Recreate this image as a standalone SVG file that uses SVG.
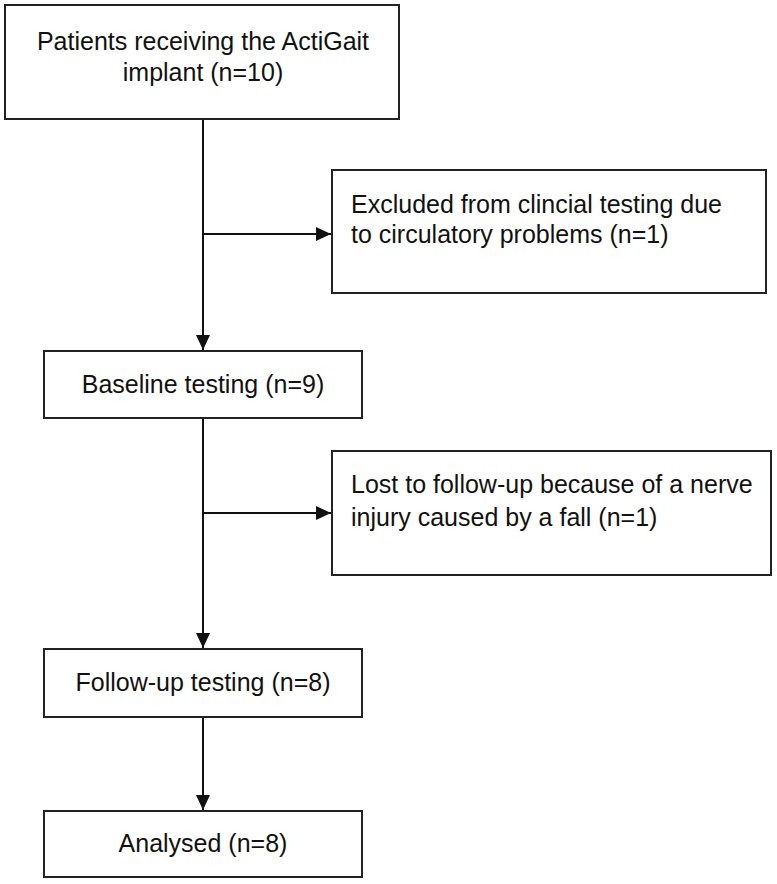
<svg xmlns="http://www.w3.org/2000/svg" width="777" height="884" viewBox="0 0 777 884">
<style>
.box{fill:#fff;stroke:#222;stroke-width:2}
.t{font-family:"Liberation Sans",Arial,sans-serif;font-size:25px;fill:#111}
.c{text-anchor:middle}
.ln{stroke:#111;stroke-width:2;fill:none}
</style>
<defs>
<marker id="ah" markerUnits="userSpaceOnUse" markerWidth="16" markerHeight="14" refX="15" refY="7" orient="auto">
<path d="M0,0 L15,7 L0,14 Z" fill="#111"/>
</marker>
</defs>
<rect width="777" height="884" fill="#fff"/>
<g id="connectors">
<line class="ln" x1="203" y1="119" x2="203" y2="350" marker-end="url(#ah)"/>
<line class="ln" x1="203" y1="234" x2="331" y2="234" marker-end="url(#ah)"/>
<line class="ln" x1="203" y1="418" x2="203" y2="648" marker-end="url(#ah)"/>
<line class="ln" x1="203" y1="513" x2="331" y2="513" marker-end="url(#ah)"/>
<line class="ln" x1="203" y1="717" x2="203" y2="810" marker-end="url(#ah)"/>
</g>
<g id="n1">
<rect class="box" x="5" y="5" width="394" height="114"/>
<text class="t c" x="203" y="50">Patients receiving the ActiGait</text>
<text class="t c" x="203" y="81">implant (n=10)</text>
</g>
<g id="n2">
<rect class="box" x="332" y="170" width="434" height="123"/>
<text class="t" x="351" y="213">Excluded from clincial testing due</text>
<text class="t" x="351" y="243">to circulatory problems (n=1)</text>
</g>
<g id="n3">
<rect class="box" x="44" y="351" width="318" height="67"/>
<text class="t c" x="203" y="393">Baseline testing (n=9)</text>
</g>
<g id="n4">
<rect class="box" x="332" y="451" width="439" height="124"/>
<text class="t" x="351" y="493">Lost to follow-up because of a nerve</text>
<text class="t" x="351" y="526">injury caused by a fall (n=1)</text>
</g>
<g id="n5">
<rect class="box" x="44" y="649" width="318" height="68"/>
<text class="t c" x="203" y="691">Follow-up testing (n=8)</text>
</g>
<g id="n6">
<rect class="box" x="44" y="811" width="318" height="66"/>
<text class="t c" x="203" y="852">Analysed (n=8)</text>
</g>
</svg>
